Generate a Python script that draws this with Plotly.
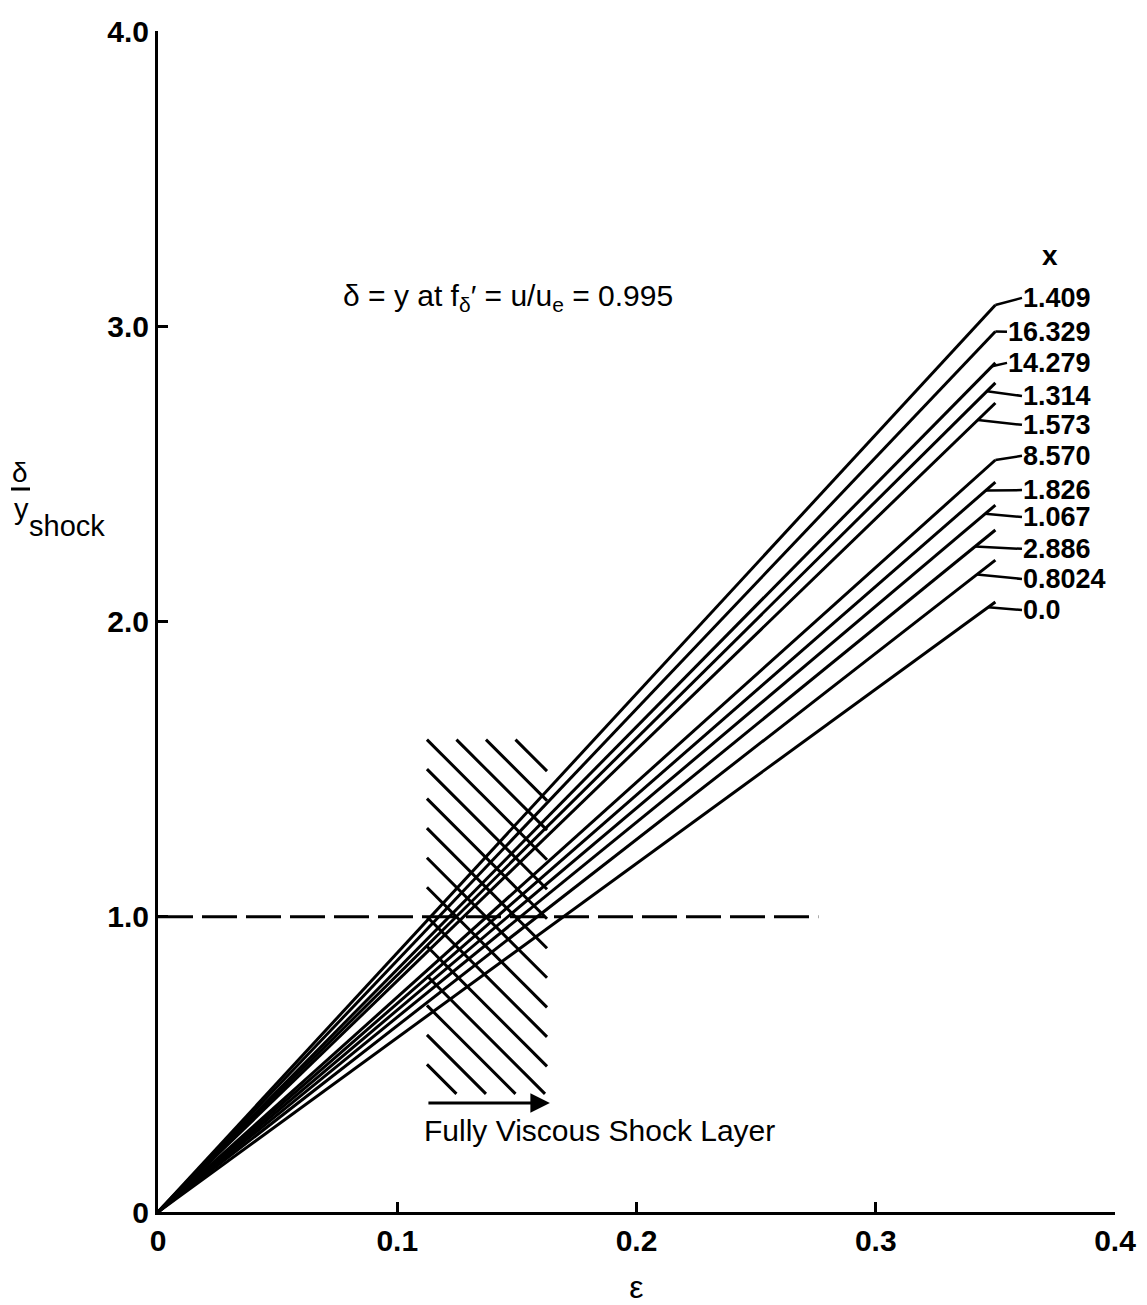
import plotly.graph_objects as go

# ---- data ----
x_labels = ["1.409", "16.329", "14.279", "1.314", "1.573", "8.570",
            "1.826", "1.067", "2.886", "0.8024", "0.0"]
eps_start = 0.0
eps_end = 0.35
ratio_end = [3.072, 2.982, 2.876, 2.808, 2.740, 2.547,
             2.472, 2.394, 2.310, 2.208, 2.066]

x_tickvals = [0, 0.1, 0.2, 0.3, 0.4]
x_ticktext = ["0", "0.1", "0.2", "0.3", "0.4"]
y_tickvals = [0, 1, 2, 3, 4]
y_ticktext = ["0", "1.0", "2.0", "3.0", "4.0"]

# ---- layout constants ----
W, H = 1147, 1305
ML, MR, MT, MB = 158, 32, 31, 93
XR = [0, 0.4]
YR = [0, 4]
PW, PH = W - ML - MR, H - MT - MB
px_per_x = PW / (XR[1] - XR[0])
px_per_y = PH / (YR[1] - YR[0])

FONT = "Liberation Sans, Arial, sans-serif"
LW = 3


def px2x(px):
    return (px - ML) / px_per_x


def py2y(py):
    return ((H - MB) - py) / px_per_y


def px2paper(px):
    return (px - ML) / PW


def py2paper(py):
    return ((H - MB) - py) / PH


fig = go.Figure()

# main lines
for lab, yend in zip(x_labels, ratio_end):
    fig.add_trace(go.Scatter(x=[eps_start, eps_end], y=[0, yend], mode="lines",
                             line=dict(color="black", width=LW),
                             name=lab, showlegend=False, hoverinfo="skip"))

# hatched band (fully viscous region)
hx0, hx1 = 0.1124, 0.1626
hy0, hy1 = 0.40, 1.60
hstep = 0.1
m = px_per_x / px_per_y  # slope for 45 deg in pixel space
hx, hy = [], []
for k in range(-3, 12):
    yl = hy1 - hstep * k
    e_top = hx0 + (yl - hy1) / m
    e_bot = hx0 + (yl - hy0) / m
    e_s = max(hx0, e_top)
    e_e = min(hx1, e_bot)
    if e_e <= e_s:
        continue
    hx += [e_s, e_e, None]
    hy += [yl - m * (e_s - hx0), yl - m * (e_e - hx0), None]
fig.add_trace(go.Scatter(x=hx, y=hy, mode="lines",
                         line=dict(color="black", width=LW),
                         showlegend=False, hoverinfo="skip"))

# dashed line at 1.0
fig.add_shape(type="line", x0=0, x1=0.276, y0=1.0, y1=1.0, xref="x", yref="y",
              line=dict(color="black", width=LW, dash="35px,9px"))

# labels with leader lines
label_y = [3.096, 2.981, 2.876, 2.764, 2.666, 2.561, 2.445, 2.354, 2.246, 2.144, 2.039]
lead_eps = [0.35, 0.35, 0.3486, 0.3465, 0.3427, 0.35, 0.346, 0.3457, 0.3415, 0.3423, 0.347]
for lab, yend, ly, le in zip(x_labels, ratio_end, label_y, lead_eps):
    nint = len(lab.split(".")[0])
    left_px = 1022 - (nint - 1) * 15
    fig.add_annotation(x=le, y=yend * le / eps_end, xref="x", yref="y",
                       ax=px2x(left_px), ay=ly, axref="x", ayref="y",
                       text="<b>" + lab + "</b>", showarrow=True, arrowhead=0,
                       arrowwidth=2.5, arrowcolor="black", xanchor="left",
                       yanchor="middle", borderpad=0, standoff=0,
                       font=dict(family=FONT, size=27, color="black"))

fig.add_annotation(x=px2x(1050), y=py2y(255), xref="x", yref="y",
                   xanchor="center", yanchor="middle", text="<b>x</b>",
                   showarrow=False, font=dict(family=FONT, size=28, color="black"))

# formula note
fig.add_annotation(x=px2x(341), y=py2y(297), xref="x", yref="y",
                   xanchor="left", yanchor="middle",
                   text="δ = y at f<sub>δ</sub>′ = u/u<sub>e</sub> = 0.995",
                   showarrow=False, font=dict(family=FONT, size=30, color="black"))

# arrow + text for the fully viscous shock layer
ar_y = 0.369
fig.add_annotation(x=0.1638, y=ar_y, ax=0.1124, ay=ar_y, axref="x", ayref="y",
                   xref="x", yref="y", text="", showarrow=True, arrowhead=2,
                   arrowsize=1.3, arrowwidth=3, arrowcolor="black", standoff=0)
fig.add_annotation(x=px2x(422), y=py2y(1130), xref="x", yref="y", xanchor="left",
                   yanchor="middle", text="Fully Viscous Shock Layer", showarrow=False,
                   font=dict(family=FONT, size=30, color="black"))

# y-axis title as stacked fraction
fig.add_annotation(x=px2paper(20), y=py2paper(472), xref="paper", yref="paper",
                   xanchor="center", yanchor="middle", text="δ", showarrow=False,
                   font=dict(family=FONT, size=28, color="black"))
fig.add_shape(type="rect", xref="paper", yref="paper",
              x0=px2paper(11), x1=px2paper(30),
              y0=py2paper(487.5), y1=py2paper(490.5),
              line=dict(width=0), fillcolor="black")
fig.add_annotation(x=px2paper(12), y=py2paper(509), xref="paper", yref="paper",
                   text="y", showarrow=False, xanchor="left", yanchor="middle",
                   font=dict(family=FONT, size=29, color="black"))
fig.add_annotation(x=px2paper(27), y=py2paper(526), xref="paper", yref="paper",
                   text="shock", showarrow=False, xanchor="left", yanchor="middle",
                   font=dict(family=FONT, size=29, color="black"))

axis_common = dict(showgrid=False, zeroline=False, showline=True, linewidth=LW,
                   linecolor="black", ticks="inside", ticklen=10, tickwidth=3,
                   tickcolor="black", automargin=False,
                   tickfont=dict(family=FONT, size=30, color="black", weight="bold"))

fig.update_layout(
    width=W, height=H,
    margin=dict(l=ML, r=MR, t=MT, b=MB, autoexpand=False),
    paper_bgcolor="white", plot_bgcolor="white",
    showlegend=False,
    xaxis=dict(range=XR, tickmode="array", tickvals=x_tickvals, ticktext=x_ticktext,
               title=dict(text="ε", font=dict(family=FONT, size=32, color="black"),
                          standoff=22),
               **axis_common),
    yaxis=dict(range=YR, tickmode="array", tickvals=y_tickvals, ticktext=y_ticktext,
               **axis_common),
)

fig.write_html("out.html")
